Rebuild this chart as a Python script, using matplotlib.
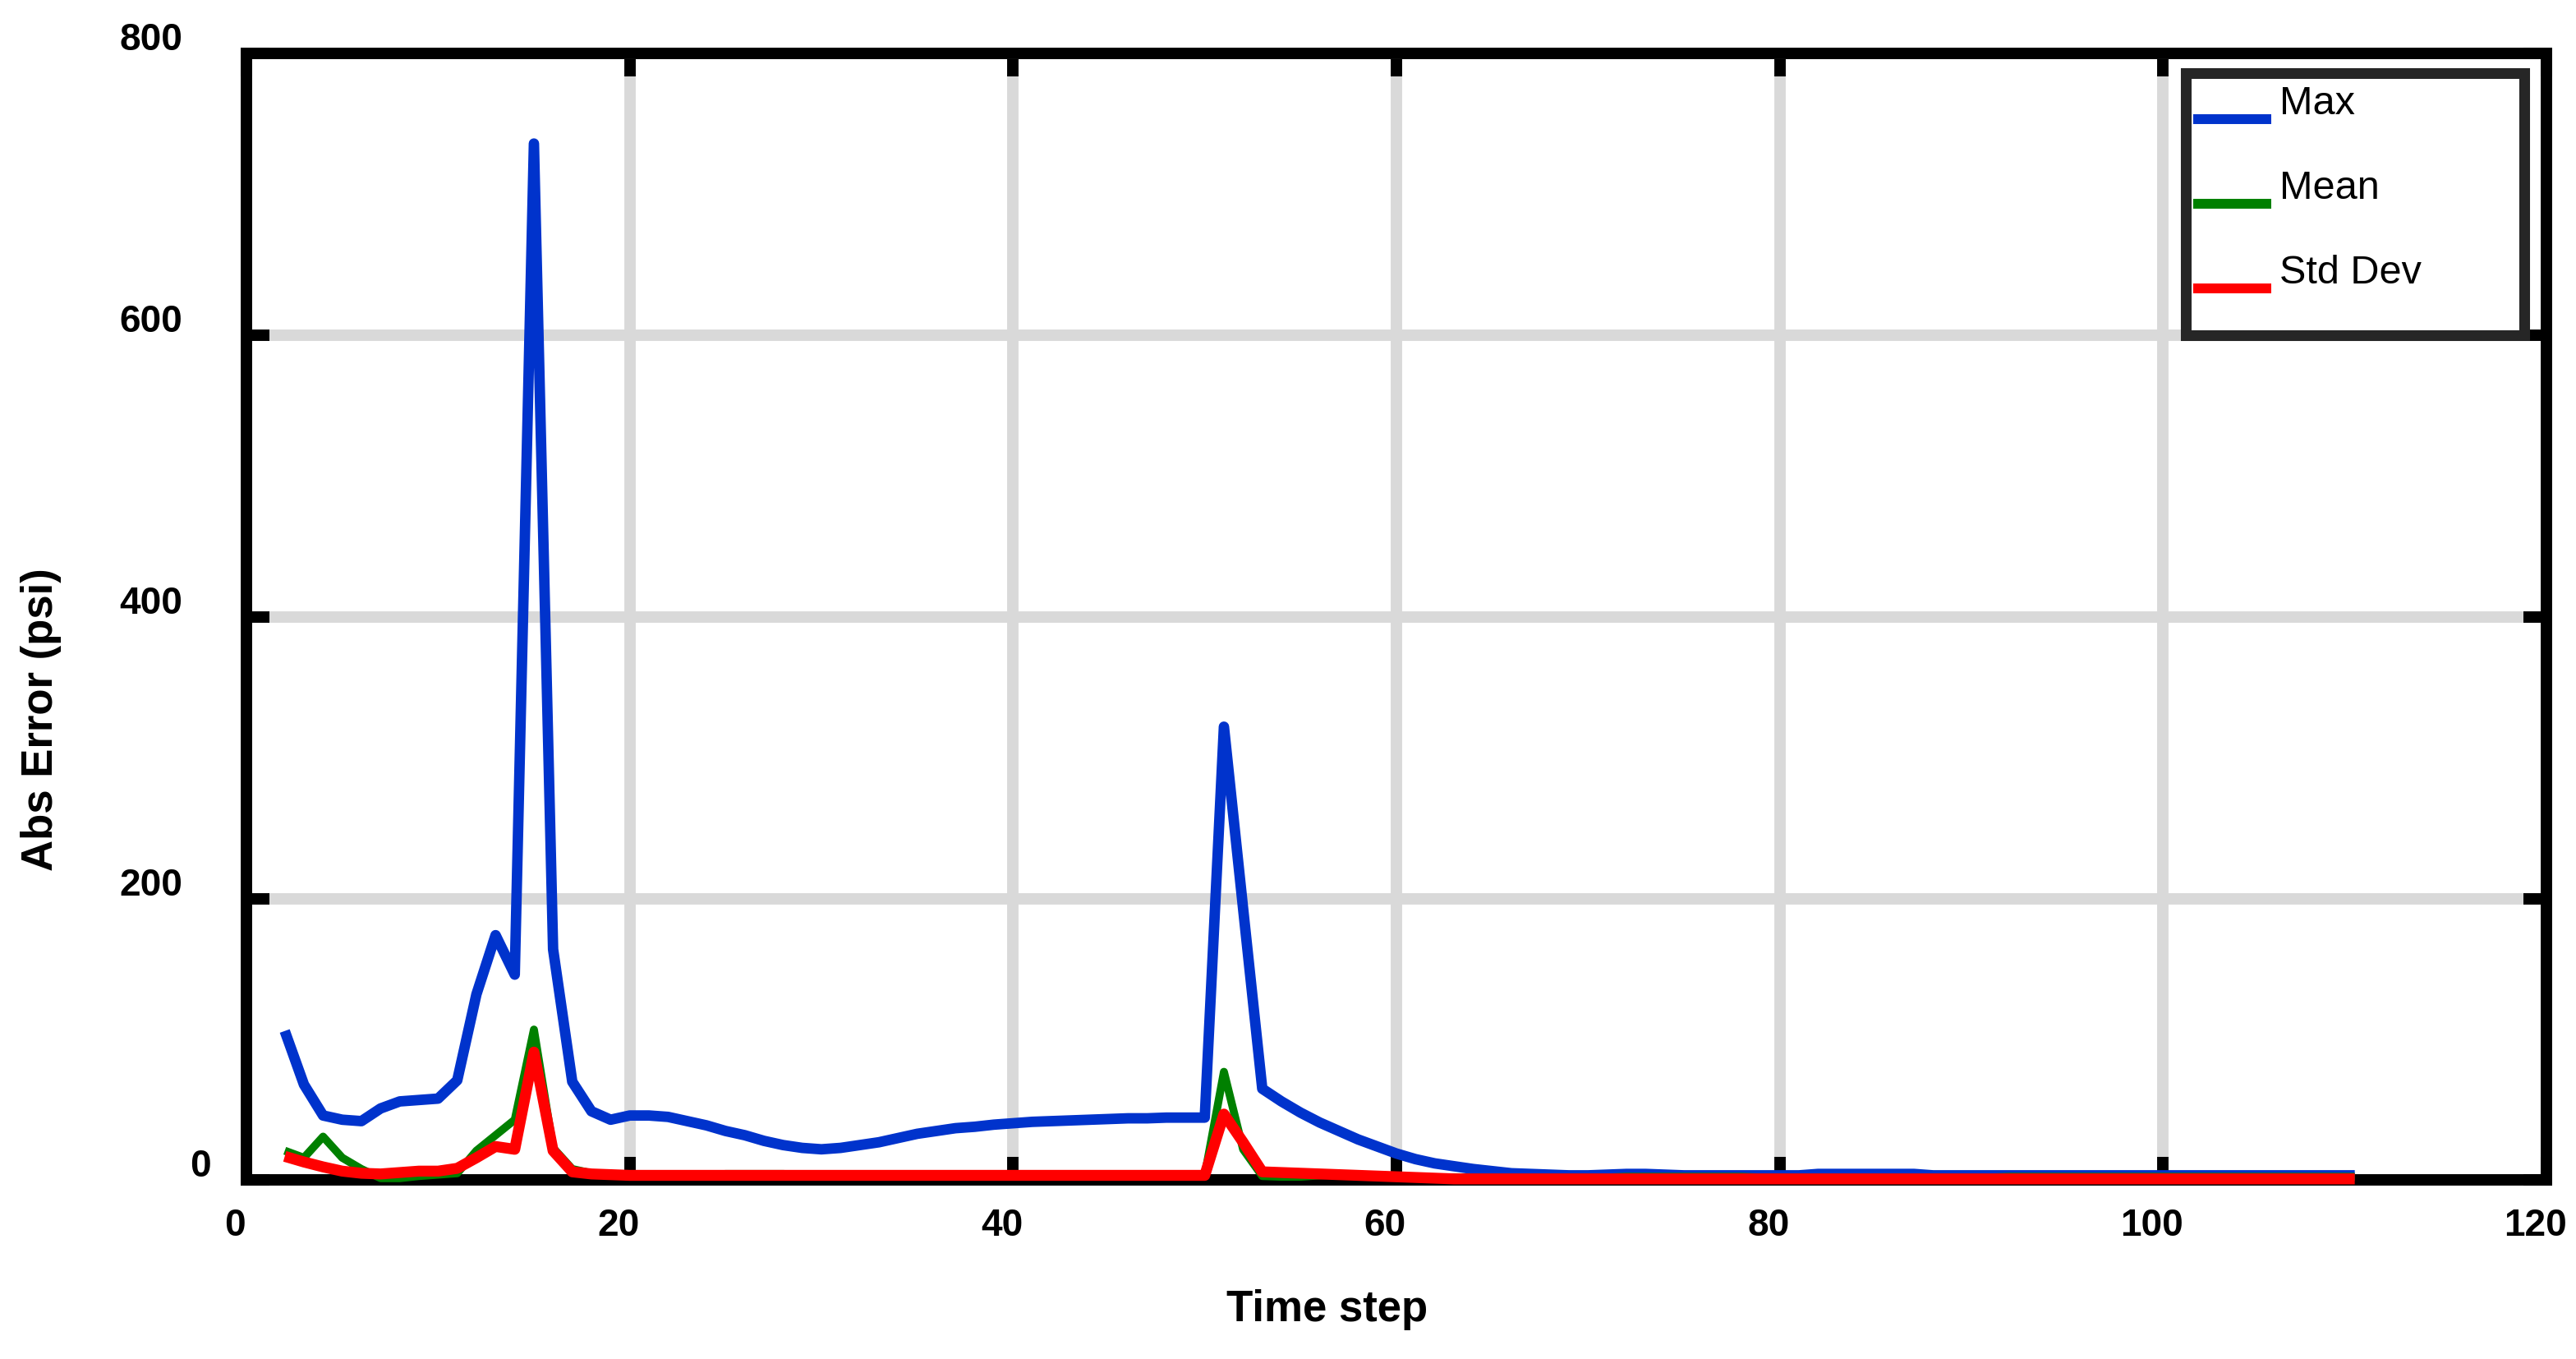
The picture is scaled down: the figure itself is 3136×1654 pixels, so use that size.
import matplotlib
matplotlib.use('Agg')
import matplotlib.pyplot as plt
import matplotlib.transforms as mtransforms
from matplotlib.patches import Rectangle
from matplotlib.lines import Line2D

# ---------------- data ----------------
time_step = list(range(2, 111))

max_err = [106, 68, 46, 43, 42, 51, 56, 57, 58,
           71, 132, 174, 146, 736, 164, 70, 49, 43, 46,
           46, 45, 42, 39, 35, 32, 28, 25, 23, 22,
           23, 25, 27, 30, 33, 35, 37, 38, 39.5, 40.5,
           41.5, 42, 42.5, 43, 43.5, 44, 44, 44.5, 44.5, 44.5,
           322, 193, 65, 56, 48, 41, 35, 29, 24, 19,
           15, 12, 10, 8, 6.5, 5, 4.5, 4, 3.5, 3.5,
           4, 4.5, 4.5, 4, 3.5, 3.5, 3.5, 3.5, 3.5, 3.5,
           3.5, 4.5, 4.5, 4.5, 4.5, 4.5, 4.5, 3.5, 3.5, 3.5,
           3.5, 3.5, 3.5, 3.5, 3.5, 3.5, 3.5, 3.5, 3.5, 3.5,
           3.5, 3.5, 3.5, 3.5, 3.5, 3.5, 3.5, 3.5, 3.5, 3.5]

mean_err = [21, 16, 31, 16, 8, 1.5, 1.5, 3, 4,
            5, 21, 32, 43, 107, 23, 8, 5, 4.5, 4,
            3.5, 3.5, 3.5, 3.5, 4.5, 4.5, 4.5, 4.5, 4, 3.5,
            3.5, 3.5, 3.5, 3.5, 3.5, 3.5, 3.5, 3.5, 3.5, 3.5,
            3.5, 3.5, 3.5, 3.5, 3.5, 3.5, 3.5, 3.5, 3.5, 3.5,
            77, 22, 3, 2.5, 2.5, 3.5, 4, 4, 3.5, 3,
            2.5, 2, 2, 2, 2, 2, 2, 2, 2, 2,
            2, 2.5, 2.5, 2.5, 2.5, 2.5, 2.5, 2.5, 2, 2,
            2, 2, 2, 2, 2, 2, 2, 2, 2, 2,
            2, 2.5, 2.5, 2.5, 2.5, 2.5, 2.5, 2.5, 2.5, 2.5,
            2.5, 2.5, 2.5, 2.5, 2.5, 2.5, 2.5, 2.5, 2.5, 2.5]

std_err = [17, 13, 9.5, 6.5, 5, 4.5, 5.5, 6.5, 6.5,
           8.5, 16, 24, 22, 91, 21, 6, 4.5, 4, 3.5,
           3.5, 3.5, 3.5, 3.5, 3.5, 3.5, 3.5, 3.5, 3.5, 3.5,
           3.5, 3.5, 3.5, 3.5, 3.5, 3.5, 3.5, 3.5, 3.5, 3.5,
           3.5, 3.5, 3.5, 3.5, 3.5, 3.5, 3.5, 3.5, 3.5, 3.5,
           47, 27, 6, 5.5, 5, 4.5, 4, 3.5, 3, 2.5,
           2, 1.5, 1, 1, 1, 1, 1, 1, 1, 1,
           1, 1, 1, 1, 1, 1, 1, 1, 1, 1,
           1, 1, 1, 1, 1, 1, 1, 1, 1, 1,
           1, 1, 1, 1, 1, 1, 1, 1, 1, 1,
           1, 1, 1, 1, 1, 1, 1, 1, 1, 1]

x_ticks = [0, 20, 40, 60, 80, 100, 120]
y_ticks = [0, 200, 400, 600, 800]
series_labels = ['Max', 'Mean', 'Std Dev']
series_colors = ['#0033CC', '#008000', '#FF0000']
series_widths = [4.6, 3.5, 4.8]

# ---------------- figure ----------------
plt.rcParams['font.family'] = ['Liberation Sans', 'DejaVu Sans']
fig = plt.figure(figsize=(15.68, 8.27), dpi=200)
left, right, bottom, top = 0.09566, 0.98852, 0.13150, 0.96070
ax = fig.add_axes([left, bottom, right - left, top - bottom])

for ys, col, lw in zip([max_err, mean_err, std_err], series_colors, series_widths):
    ax.plot(time_step, ys, color=col, lw=lw, solid_joinstyle='round',
            solid_capstyle='butt', clip_on=False, zorder=3)

ax.set_xlim(0, 120)
ax.set_ylim(0, 800)
ax.set_xticks(x_ticks)
ax.set_yticks(y_ticks)
ax.set_xticklabels([str(v) for v in x_ticks], fontweight='bold', fontsize=16.5)
ax.set_yticklabels([str(v) for v in y_ticks], fontweight='bold', fontsize=16.5)
ax.tick_params(axis='both', direction='in', length=10, width=5, top=True, right=True,
               color='black')
ax.tick_params(axis='y', pad=28)
ax.tick_params(axis='x', pad=12)

ax.set_axisbelow(True)
ax.grid(True, color='#d9d9d9', linewidth=5)

for sp in ax.spines.values():
    sp.set_linewidth(5)
    sp.set_color('black')
    sp.set_capstyle('projecting')

# tick label offsets (as in the reference)
offx = mtransforms.ScaledTranslation(-5 / 72, 0, fig.dpi_scale_trans)
for tick in ax.xaxis.get_major_ticks():
    tick.label1.set_transform(tick.label1.get_transform() + offx)
offy = mtransforms.ScaledTranslation(0, 7.6 / 72, fig.dpi_scale_trans)
yt = ax.yaxis.get_major_ticks()
for tick in yt:
    tick.label1.set_transform(tick.label1.get_transform() + offy)
yt[0].label1.set_transform(yt[0].label1.get_transform()
                           + mtransforms.ScaledTranslation(12.6 / 72, 0, fig.dpi_scale_trans))

ax.set_xlabel('Time step', fontsize=19, fontweight='bold')
ax.set_ylabel('Abs Error (psi)', fontsize=19, fontweight='bold')
ax.xaxis.set_label_coords(0.470, -0.1148)
ax.xaxis.label.set_va('center')
ax.yaxis.set_label_coords(-0.0893, 0.4087)
ax.yaxis.label.set_va('center')

# legend box
ax.add_patch(Rectangle((0.8432, 0.7501), 0.9904 - 0.8432, 0.9825 - 0.7501,
                       transform=ax.transAxes, facecolor='white', edgecolor='#262626',
                       linewidth=4.7, zorder=5, clip_on=False))
handle_y = [0.9416, 0.8665, 0.7914]
text_y = [0.9460, 0.8709, 0.7958]
for lab, col, hy, ty in zip(series_labels, series_colors, handle_y, text_y):
    ax.add_line(Line2D([0.8464, 0.8804], [hy, hy], transform=ax.transAxes, color=col,
                       lw=4.3, solid_capstyle='butt', zorder=6, clip_on=False))
    ax.text(0.8839, ty, lab, transform=ax.transAxes, fontsize=17.5, ha='left',
            va='baseline', zorder=6)

fig.savefig('out.png', dpi=200)
